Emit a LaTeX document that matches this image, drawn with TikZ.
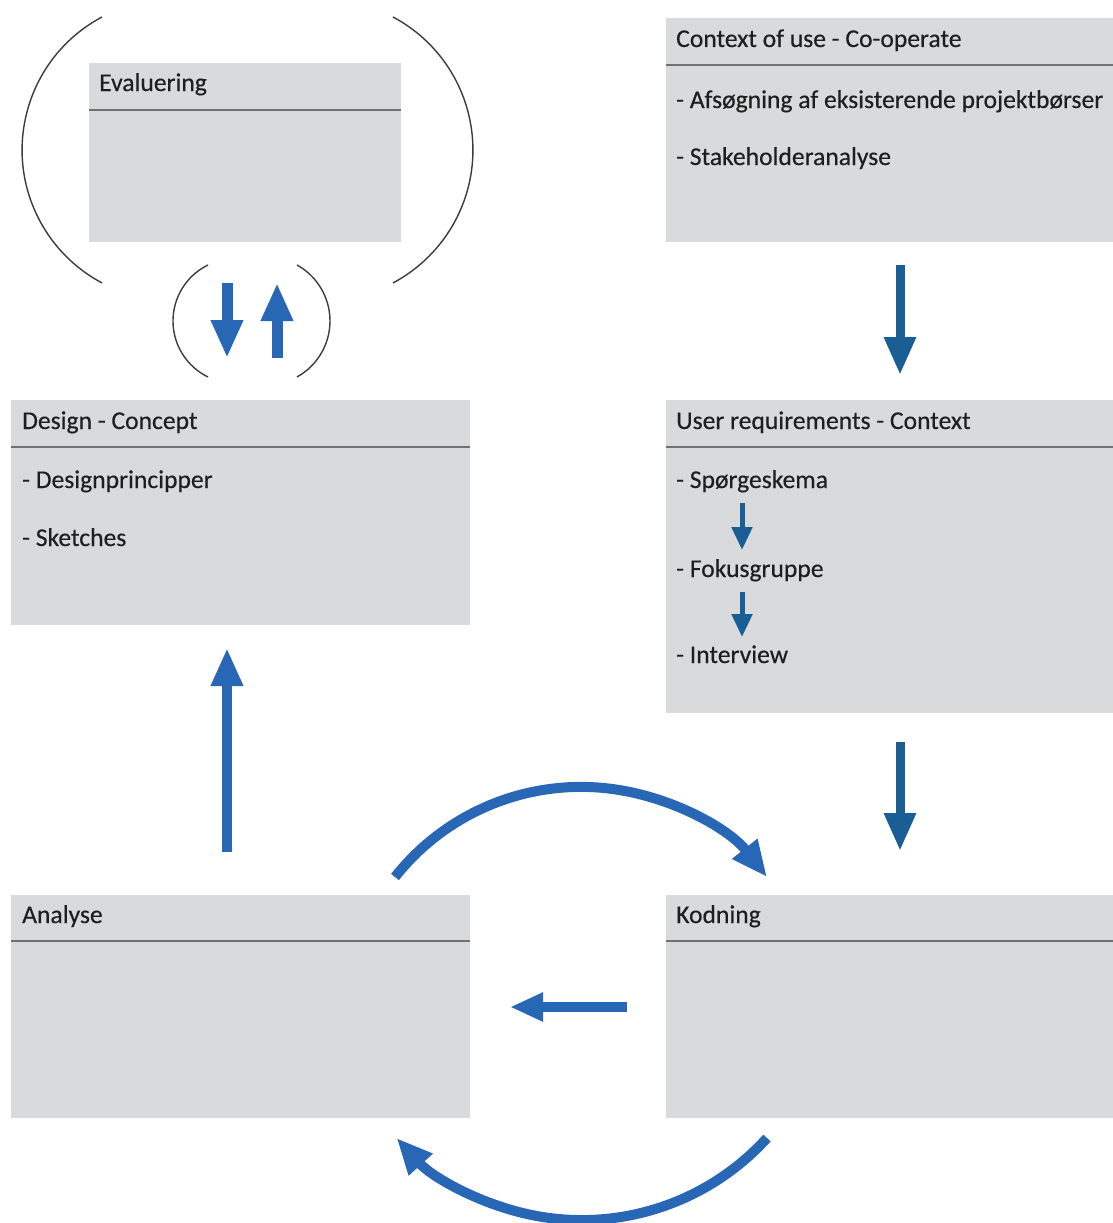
\documentclass[tikz,border=0pt]{standalone}
\usepackage{fontspec}
\setmainfont{Carlito}
\newfontfamily\lblfont[FakeBold=0.35]{Carlito}
\usetikzlibrary{arrows.meta}
\definecolor{boxgray}{RGB}{217,218,220}
\definecolor{hdrline}{RGB}{112,112,112}
\definecolor{txt}{RGB}{30,30,30}
\definecolor{lblue}{RGB}{39,103,182}
\definecolor{dblue}{RGB}{26,94,150}
\definecolor{paren}{RGB}{60,60,60}
\begin{document}
\begin{tikzpicture}[x=1pt,y=-1pt,
  box/.style={fill=boxgray, draw=none, inner sep=0pt, outer sep=0pt, anchor=north west},
  hline/.style={draw=hdrline, line width=2pt},
  lbl/.style={anchor=base west, inner sep=0pt, text=txt, font=\lblfont\fontsize{25.6}{30}\selectfont},
  bigdark/.style={draw=dblue, line width=9pt, -{Triangle[length=38pt,width=30pt]}},
  bigblue/.style={draw=lblue, line width=10pt, -{Triangle[length=38pt,width=30pt]}},
  smalldark/.style={draw=dblue, line width=5pt, -{Triangle[length=23pt,width=20pt]}},
  arcblue/.style={draw=lblue, line width=10pt, -{Triangle[length=36pt,width=30pt]}},
  parenline/.style={draw=paren, line width=1.4pt}
]
\useasboundingbox (0,0) rectangle (1113,1223);
\clip (0,0) rectangle (1113,1223);
\fill[white] (0,0) rectangle (1113,1223);

% ---- boxes ----
\node[box, minimum width=312pt, minimum height=179pt] (eval) at (89,63) {};
\node[box, minimum width=447pt, minimum height=224pt] (ctx) at (666,18) {};
\node[box, minimum width=459pt, minimum height=225pt] (design) at (11,400) {};
\node[box, minimum width=447pt, minimum height=313pt] (ureq) at (666,400) {};
\node[box, minimum width=459pt, minimum height=223pt] (analyse) at (11,895) {};
\node[box, minimum width=447pt, minimum height=223pt] (kod) at (666,895) {};

% ---- header lines ----
\draw[hline] ([yshift=-47pt]eval.north west) -- ([yshift=-47pt]eval.north east);
\draw[hline] ([yshift=-47pt]ctx.north west) -- ([yshift=-47pt]ctx.north east);
\draw[hline] ([yshift=-47pt]design.north west) -- ([yshift=-47pt]design.north east);
\draw[hline] ([yshift=-47pt]ureq.north west) -- ([yshift=-47pt]ureq.north east);
\draw[hline] ([yshift=-46pt]analyse.north west) -- ([yshift=-46pt]analyse.north east);
\draw[hline] ([yshift=-46pt]kod.north west) -- ([yshift=-46pt]kod.north east);

% ---- texts ----
\node[lbl] (evalT) at ([xshift=10pt,yshift=-28pt]eval.north west) {Evaluering};

\node[lbl] (ctxT) at ([xshift=10pt,yshift=-29pt]ctx.north west) {Context of use - Co-operate};
\node[lbl] (ctx1) at ([xshift=10pt,yshift=-90pt]ctx.north west) {- Afsøgning af eksisterende projektbørser};
\node[lbl] (ctx2) at ([xshift=10pt,yshift=-147pt]ctx.north west) {- Stakeholderanalyse};

\node[lbl] (designT) at ([xshift=11pt,yshift=-29pt]design.north west) {Design - Concept};
\node[lbl] (design1) at ([xshift=11pt,yshift=-88pt]design.north west) {- Designprincipper};
\node[lbl] (design2) at ([xshift=11pt,yshift=-146pt]design.north west) {- Sketches};

\node[lbl] (ureqT) at ([xshift=10pt,yshift=-29pt]ureq.north west) {User requirements - Context};
\node[lbl] (ureq1) at ([xshift=10pt,yshift=-88pt]ureq.north west) {- Spørgeskema};
\node[lbl] (ureq2) at ([xshift=10pt,yshift=-177pt]ureq.north west) {- Fokusgruppe};
\node[lbl] (ureq3) at ([xshift=10pt,yshift=-263pt]ureq.north west) {- Interview};

\node[lbl] (analyseT) at ([xshift=11pt,yshift=-28pt]analyse.north west) {Analyse};
\node[lbl] (kodT) at ([xshift=10pt,yshift=-28pt]kod.north west) {Kodning};

% ---- straight arrows ----
\coordinate (r1s) at (900,265);  \coordinate (r1e) at (900,375);
\draw[bigdark] (r1s) -- (r1e);
\coordinate (r2s) at (900,742);  \coordinate (r2e) at (900,851);
\draw[bigdark] (r2s) -- (r2e);

\coordinate (s1s) at (742,503);  \coordinate (s1e) at (742,550);
\draw[smalldark] (s1s) -- (s1e);
\coordinate (s2s) at (742,592);  \coordinate (s2e) at (742,637);
\draw[smalldark] (s2s) -- (s2e);

\coordinate (upS) at (227,852);  \coordinate (upE) at (227,648);
\draw[bigblue] (upS) -- (upE);

\coordinate (eDs) at (227,283);  \coordinate (eDe) at (227,358);
\draw[bigblue, line width=11pt] (eDs) -- (eDe);
\coordinate (eUs) at (277,358);  \coordinate (eUe) at (277,283);
\draw[bigblue, line width=11pt] (eUs) -- (eUe);

\coordinate (hS) at (627,1007);  \coordinate (hE) at (510,1007);
\draw[draw=lblue, line width=10pt, -{Triangle[length=33pt,width=27pt]}] (hS) -- (hE);

% ---- curved arrows ----
\coordinate (topS) at (395,877);
\draw[arcblue] (topS) arc[start angle=-141.7, end angle=-38.3, radius=237];
\coordinate (botS) at (767,1138);
\draw[arcblue] (botS) arc[start angle=42.2, end angle=137.8, radius=250];

% ---- parentheses ----
\coordinate (pL) at (102,17);
\draw[parenline] (pL) arc[start angle=-118, end angle=-242, radius=150.6];
\coordinate (pR) at (393,17);
\draw[parenline] (pR) arc[start angle=-62, end angle=62, radius=150.6];
\coordinate (qL) at (208,265);
\draw[parenline] (qL) arc[start angle=-116, end angle=-244, radius=62.3];
\coordinate (qR) at (297,265);
\draw[parenline] (qR) arc[start angle=-61, end angle=61, radius=64];
\end{tikzpicture}
\end{document}
